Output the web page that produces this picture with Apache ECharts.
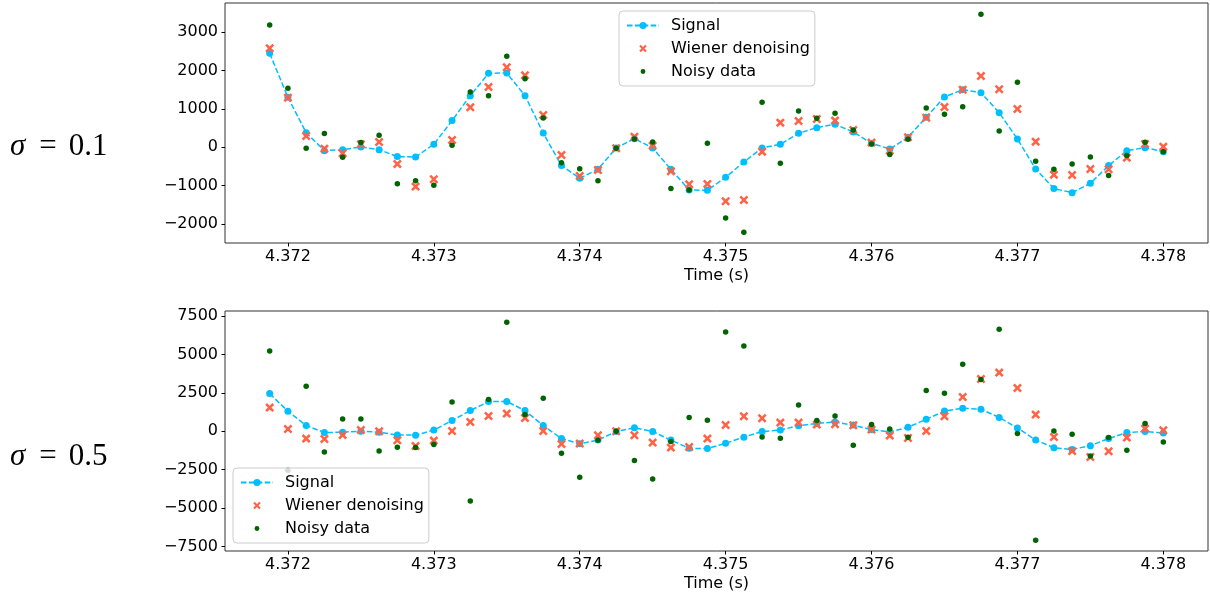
<!DOCTYPE html>
<html>
<head>
<meta charset="utf-8">
<script src="https://cdn.jsdelivr.net/npm/echarts@6/dist/echarts.min.js"></script>
<style>html,body{margin:0;padding:0;background:#fff}#c{width:1210px;height:600px}</style>
</head>
<body>
<div id="c"></div>
<script>
const times = [4.371875, 4.372000, 4.372125, 4.372250, 4.372375, 4.372500, 4.372625, 4.372750, 4.372875, 4.373000,
  4.373125, 4.373250, 4.373375, 4.373500, 4.373625, 4.373750, 4.373875, 4.374000, 4.374125, 4.374250,
  4.374375, 4.374500, 4.374625, 4.374750, 4.374875, 4.375000, 4.375125, 4.375250, 4.375375, 4.375500,
  4.375625, 4.375750, 4.375875, 4.376000, 4.376125, 4.376250, 4.376375, 4.376500, 4.376625, 4.376750,
  4.376875, 4.377000, 4.377125, 4.377250, 4.377375, 4.377500, 4.377625, 4.377750, 4.377875, 4.378000];

const signal = [2452,1304,380,-87,-61,9,-61,-243,-252,78,696,1348,1930,1939,1348,370,-478,-809,-574,-17,
  226,-17,-574,-1113,-1122,-783,-383,-17,78,365,513,600,400,104,-43,261,783,1313,1504,1426,
  904,217,-565,-1078,-1183,-939,-478,-87,-9,-113];

const wienerLow = [2583,1296,296,-35,-157,78,139,-435,-1026,-835,191,1043,1574,2087,1878,843,-200,-748,-591,-26,
  278,43,-626,-965,-957,-1409,-1374,-113,643,687,739,696,452,122,-87,261,774,1052,1504,1861,
  1513,1000,148,-713,-722,-565,-574,-270,87,17];

const noisyLow = [3191,1539,-26,357,-261,122,313,-948,-870,-991,52,1443,1348,2374,1791,765,-400,-557,-870,-26,
  217,139,-1078,-1113,104,-1844,-2217,1174,-417,948,757,887,452,87,-191,209,1026,861,1061,3470,
  426,1696,-365,-574,-435,-252,-739,-217,130,-113];

const wienerHigh = [1541,152,-477,-499,-239,87,0,-586,-955,-608,22,608,998,1150,868,22,-825,-803,-260,0,
  -260,-738,-1063,-1020,-477,412,977,846,564,564,434,456,391,108,-282,-434,22,977,2235,3407,
  3819,2821,1085,-369,-1280,-1671,-1302,-412,174,65];

const noisyHigh = [5230,-2539,2930,-1345,803,803,-1280,-1042,-1063,-868,1910,-4535,2062,7096,1085,2148,-1432,-2995,-586,0,
  -1910,-3103,-673,890,716,6467,5555,-369,-456,1714,694,998,-911,434,152,-391,2647,2474,4362,3364,
  6640,-152,-7096,22,-195,-1606,-412,-1237,499,-694];

const xTicks = [4.372, 4.373, 4.374, 4.375, 4.376, 4.377, 4.378];
const yTicksTop = [-2000, -1000, 0, 1000, 2000, 3000];
const yTicksBottom = [-7500, -5000, -2500, 0, 2500, 5000, 7500];
const sigmaLabels = ['0.1', '0.5'];
const seriesNames = ['Signal', 'Wiener denoising', 'Noisy data'];

const pair = (ys) => times.map((t, i) => [t, ys[i]]);
const FONT = 'DejaVu Sans';
const FS = 16;
const fmtY = v => (v < 0 ? '\u2212' + Math.abs(v) : String(v));
const xPath = 'path://M0,2 L2,0 L5,3 L8,0 L10,2 L7,5 L10,8 L8,10 L5,7 L2,10 L0,8 L3,5 Z';
const legendXPath = 'path://M0,0L0.01,0L0,0.01Z M12,12L11.99,12L12,11.99Z M1,3 L3,1 L6,4 L9,1 L11,3 L8,6 L11,9 L9,11 L6,8 L3,11 L1,9 L4,6 Z';
const legendDotPath = 'path://M0,0L0.01,0L0,0.01Z M10,10L9.99,10L10,9.99Z M5,2.3A2.7,2.7 0 1 1 4.99,2.3Z';

function xAxisFor(idx) {
  return {
    type: 'value', gridIndex: idx, min: 4.37156875, max: 4.37830625,
    name: 'Time (s)', nameLocation: 'middle', nameGap: 25,
    nameTextStyle: { fontFamily: FONT, fontSize: FS, color: '#000' },
    axisLine: { show: false, onZero: false },
    axisTick: { show: true, length: 3.5, customValues: xTicks, lineStyle: { color: '#000', width: 1 } },
    axisLabel: { customValues: xTicks, margin: 6, fontFamily: FONT, fontSize: FS, color: '#000',
      formatter: v => v.toFixed(3) },
    splitLine: { show: false }
  };
}
function yAxisFor(idx, min, max, ticks) {
  return {
    type: 'value', gridIndex: idx, min: min, max: max,
    axisLine: { show: false, onZero: false },
    axisTick: { show: true, length: 3.5, customValues: ticks, lineStyle: { color: '#000', width: 1 } },
    axisLabel: { customValues: ticks, margin: 7, fontFamily: FONT, fontSize: FS, color: '#000', formatter: fmtY },
    splitLine: { show: false }
  };
}
function seriesFor(idx, wiener, noisy) {
  return [
    { name: seriesNames[0], type: 'line', xAxisIndex: idx, yAxisIndex: idx, data: pair(signal),
      symbol: 'circle', symbolSize: 7, showAllSymbol: true, smooth: false,
      itemStyle: { color: '#00BFFF', opacity: 1 },
      lineStyle: { color: '#00BFFF', width: 1.5, type: [5.5, 2.4] }, z: 2, animation: false },
    { name: seriesNames[1], type: 'scatter', xAxisIndex: idx, yAxisIndex: idx, data: pair(wiener),
      symbol: xPath, symbolSize: 9, itemStyle: { color: '#FF6347', opacity: 1 }, z: 3, animation: false },
    { name: seriesNames[2], type: 'scatter', xAxisIndex: idx, yAxisIndex: idx, data: pair(noisy),
      symbol: 'circle', symbolSize: 5.5, itemStyle: { color: '#006400', opacity: 1 }, z: 4, animation: false }
  ];
}
function legendAt(left, top) {
  return {
    left: left, top: top, orient: 'vertical',
    data: [
      { name: seriesNames[0] },
      { name: seriesNames[1], icon: legendXPath },
      { name: seriesNames[2], icon: legendDotPath }
    ],
    backgroundColor: 'rgba(255,255,255,0.8)', borderColor: '#cccccc', borderWidth: 1, borderRadius: 4,
    padding: [6.5, 5, 6.5, 7], itemWidth: 32, itemHeight: 9, itemGap: 7,
    textStyle: { fontFamily: FONT, fontSize: FS, color: '#000', lineHeight: 16, padding: [0, 0, 0, 7] },
    selectedMode: false, z: 10
  };
}
function sigmaText(label, top) {
  const base = { fontFamily: 'Liberation Serif', fontSize: 31, lineHeight: 31, fill: '#000' };
  return { type: 'text', left: 10, top: top, style: {
    text: '{s|\u03c3}{e|=}{n|' + label + '}',
    rich: {
      s: Object.assign({ fontStyle: 'italic' }, base),
      e: Object.assign({ padding: [0, 12, 0, 14] }, base),
      n: base
    } } };
}

const chart = echarts.init(document.getElementById('c'), null, { renderer: 'canvas' });
chart.setOption({
  animation: false,
  backgroundColor: '#fff',
  grid: [
    { left: 225, top: 3, width: 983, height: 240, show: true, borderColor: '#333', borderWidth: 1, backgroundColor: 'transparent' },
    { left: 225, top: 311, width: 983, height: 240, show: true, borderColor: '#333', borderWidth: 1, backgroundColor: 'transparent' }
  ],
  xAxis: [xAxisFor(0), xAxisFor(1)],
  yAxis: [yAxisFor(0, -2497, 3765, yTicksTop), yAxisFor(1, -7795, 7830, yTicksBottom)],
  legend: [legendAt(619, 11), legendAt(233, 468)],
  series: [...seriesFor(0, wienerLow, noisyLow), ...seriesFor(1, wienerHigh, noisyHigh)],
  graphic: [sigmaText(sigmaLabels[0], 131), sigmaText(sigmaLabels[1], 441)]
});
</script>
</body>
</html>
